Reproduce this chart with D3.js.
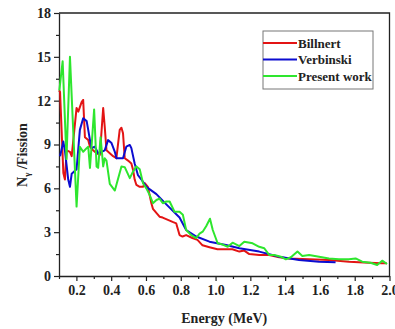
<!DOCTYPE html>
<html>
<head>
<meta charset="utf-8">
<script src="https://cdn.jsdelivr.net/npm/d3@7"></script>
<style>
  body { margin: 0; background: #fff; }
  svg text { font-family: "Liberation Serif", "DejaVu Serif", serif; font-weight: bold; }
</style>
</head>
<body>
<script>
// Billnert
const billnertE = [0.100,0.106,0.125,0.134,0.144,0.163,0.173,0.201,0.211,0.230,0.239,0.249,0.268,0.278,0.296,0.316,0.335,0.354,0.363,0.373,0.392,0.411,0.430,0.449,0.459,0.468,0.478,0.497,0.516,0.526,0.535,0.545,0.564,0.583,0.593,0.611,0.631,0.640,0.678,0.696,0.753,0.774,0.793,0.810,0.831,0.867,0.896,0.925,0.965,1.011,1.097,1.137,1.165,1.194,1.251,1.308,1.366,1.423,1.538,1.652,1.767,1.881,1.956,1.984];
const billnertN = [12.7,12.6,7.05,6.6,8.6,8.5,8.2,11.5,11.25,11.9,12.05,9.5,9.3,8.85,8.6,8.4,8.3,11.5,10.2,8.6,8.4,8.2,8.06,10.0,10.15,9.77,8.06,7.9,7.7,7.26,6.6,6.23,6.1,6.1,6.35,6.1,4.98,4.6,4.06,4.0,3.7,3.6,2.8,2.7,2.8,2.6,2.47,2.1,1.97,1.83,1.83,1.67,1.74,1.5,1.44,1.44,1.28,1.2,1.14,1.1,0.98,0.91,0.87,0.87];

// Verbinski
const verbinskiE = [0.106,0.125,0.134,0.153,0.163,0.173,0.201,0.220,0.239,0.259,0.268,0.278,0.287,0.306,0.325,0.345,0.363,0.382,0.402,0.421,0.430,0.468,0.487,0.507,0.516,0.535,0.554,0.574,0.602,0.660,0.717,0.793,0.831,0.889,0.965,1.060,1.137,1.251,1.366,1.480,1.595,1.690];
const verbinskiN = [8.2,9.2,8.6,6.6,6.1,7.0,7.3,10.0,10.8,10.6,10.0,9.3,8.75,8.85,8.4,8.5,8.6,9.3,9.1,8.5,8.06,8.06,8.85,8.97,8.75,7.7,6.9,6.6,6.1,5.6,4.9,4.0,3.15,2.7,2.35,2.12,1.9,1.67,1.32,1.1,0.98,0.94];

// Present work
const presentE = [0.102,0.121,0.143,0.163,0.201,0.220,0.239,0.259,0.268,0.278,0.287,0.302,0.316,0.325,0.339,0.354,0.363,0.373,0.392,0.421,0.459,0.478,0.507,0.526,0.545,0.564,0.583,0.602,0.621,0.640,0.660,0.678,0.697,0.717,0.736,0.764,0.793,0.812,0.831,0.860,0.889,0.908,0.926,0.946,0.968,0.984,1.012,1.041,1.070,1.098,1.137,1.165,1.213,1.251,1.280,1.308,1.337,1.375,1.404,1.433,1.471,1.499,1.538,1.595,1.652,1.709,1.767,1.805,1.843,1.891,1.929,1.958,1.986];
const presentN = [12.7,14.7,8.0,15.0,4.75,8.85,8.5,8.75,8.85,7.4,8.85,11.4,7.5,7.4,9.5,7.5,8.06,7.9,6.3,5.85,7.5,7.45,6.7,7.15,7.5,7.3,6.35,6.0,5.55,4.98,5.2,5.3,4.98,5.1,5.1,4.4,4.4,4.2,3.15,2.8,2.6,2.9,3.03,3.4,3.92,3.15,2.24,2.15,2.0,2.28,2.05,2.35,2.24,2.0,1.9,1.44,1.44,1.32,1.14,1.28,1.67,1.37,1.44,1.32,1.2,1.14,1.14,1.2,0.98,0.91,0.75,1.05,0.82];

const seriesNames = ["Billnert", "Verbinski", "Present work"];
const xTicks = [0.2, 0.4, 0.6, 0.8, 1.0, 1.2, 1.4, 1.6, 1.8, 2.0];
const yTicks = [0, 3, 6, 9, 12, 15, 18];

const width = 395, height = 329;
const margin = { top: 13, right: 5.5, bottom: 53, left: 59 };
const colors = ["#e31414", "#0c0cd0", "#2ee62e"];

const series = [
  billnertE.map((e, i) => [e, billnertN[i]]),
  verbinskiE.map((e, i) => [e, verbinskiN[i]]),
  presentE.map((e, i) => [e, presentN[i]])
];

const x = d3.scaleLinear().domain([0.1, 2.0]).range([margin.left, width - margin.right]);
const y = d3.scaleLinear().domain([0, 18]).range([height - margin.bottom, margin.top]);

const svg = d3.select("body").append("svg")
  .attr("width", width)
  .attr("height", height);

// frame (top and right)
svg.append("path")
  .attr("d", `M${x(0.1)},${y(18)}H${x(2.0)}V${y(0)}`)
  .attr("fill", "none")
  .attr("stroke", "#222")
  .attr("stroke-width", 1.3);

// minor ticks
const xMinor = d3.range(1, 20).map(d => d / 10).filter(d => !xTicks.some(t => Math.abs(t - d) < 1e-6));
svg.append("g")
  .attr("transform", `translate(0,${y(0)})`)
  .call(d3.axisBottom(x).tickValues(xMinor).tickSize(3).tickFormat(""))
  .call(g => g.select(".domain").remove())
  .selectAll("line").attr("stroke", "#222").attr("stroke-width", 1.2);

const yMinor = d3.range(1.5, 18, 3);
svg.append("g")
  .attr("transform", `translate(${x(0.1)},0)`)
  .call(d3.axisLeft(y).tickValues(yMinor).tickSize(3).tickFormat(""))
  .call(g => g.select(".domain").remove())
  .selectAll("line").attr("stroke", "#222").attr("stroke-width", 1.2);

// x axis
const xAxis = svg.append("g")
  .attr("transform", `translate(0,${y(0)})`)
  .call(d3.axisBottom(x).tickValues(xTicks).tickSize(5).tickSizeOuter(0).tickPadding(4)
    .tickFormat(d3.format(".1f")));
xAxis.select(".domain").attr("stroke", "#222").attr("stroke-width", 1.3);
xAxis.selectAll("line").attr("stroke", "#222").attr("stroke-width", 1.2);
xAxis.selectAll("text").attr("font-size", 14).attr("fill", "#222");

// y axis
const yAxis = svg.append("g")
  .attr("transform", `translate(${x(0.1)},0)`)
  .call(d3.axisLeft(y).tickValues(yTicks).tickSize(5).tickSizeOuter(0).tickPadding(3));
yAxis.select(".domain").attr("stroke", "#222").attr("stroke-width", 1.3);
yAxis.selectAll("line").attr("stroke", "#222").attr("stroke-width", 1.2);
yAxis.selectAll("text").attr("font-size", 14).attr("fill", "#222");

// data lines
const line = d3.line().x(d => x(d[0])).y(d => y(d[1]));
series.forEach((s, i) => {
  svg.append("path")
    .datum(s)
    .attr("d", line)
    .attr("fill", "none")
    .attr("stroke", colors[i])
    .attr("stroke-width", 2)
    .attr("stroke-linejoin", "round");
});

// axis titles
svg.append("text")
  .attr("x", (x(0.1) + x(2.0)) / 2)
  .attr("y", 323)
  .attr("text-anchor", "middle")
  .attr("font-size", 14)
  .attr("fill", "#222")
  .text("Energy (MeV)");

const yTitle = svg.append("text")
  .attr("transform", "translate(27,155) rotate(-90)")
  .attr("text-anchor", "middle")
  .attr("font-size", 14)
  .attr("fill", "#222");
yTitle.append("tspan").text("N");
yTitle.append("tspan").attr("font-size", 9).attr("dy", 3).text("γ");
yTitle.append("tspan").attr("dy", -3).text(" /Fission");

// legend
const legend = svg.append("g").attr("transform", "translate(263,31)");
legend.append("rect")
  .attr("width", 110).attr("height", 58)
  .attr("fill", "#fff").attr("stroke", "#777").attr("stroke-width", 1);
seriesNames.forEach((name, i) => {
  const ly = 12 + i * 16.5;
  legend.append("line")
    .attr("x1", 0).attr("x2", 34).attr("y1", ly).attr("y2", ly)
    .attr("stroke", colors[i]).attr("stroke-width", 2);
  legend.append("text")
    .attr("x", 35).attr("y", ly + 4.5)
    .attr("font-size", 13)
    .attr("fill", "#222")
    .text(name);
});
</script>
</body>
</html>
